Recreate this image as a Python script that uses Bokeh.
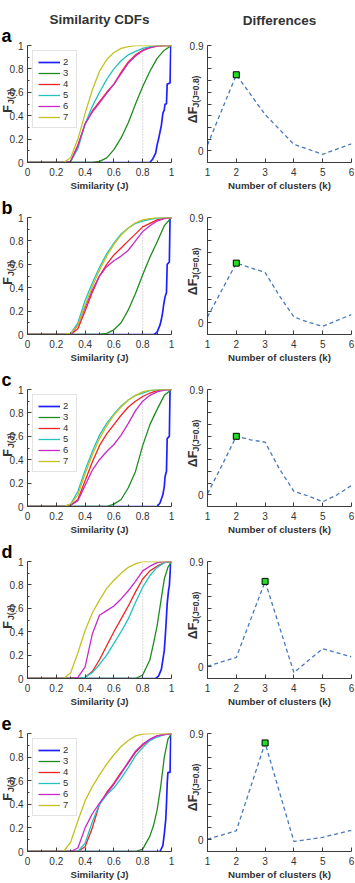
import math

from bokeh.embed import file_html
from bokeh.layouts import column, row
from bokeh.models import FixedTicker, Label
from bokeh.plotting import figure
from bokeh.resources import INLINE

# ---------------------------------------------------------------- data
K_NAMES = ["2", "3", "4", "5", "6", "7"]
THRESHOLD = 0.8
PANEL_LETTERS = ["a", "b", "c", "d", "e"]
COLUMN_TITLES = ["Similarity CDFs", "Differences"]

# similarity grid shared by the k = 4..7 curves
J_GRID = [0, 0.25, 0.30, 0.35, 0.40, 0.45, 0.50, 0.55, 0.60, 0.65,
          0.70, 0.75, 0.80, 0.85, 0.90, 0.95, 1.00]

# panel a
a_k2_j = [0, 0.85, 0.87, 0.89, 0.90, 0.91, 0.92, 0.93, 0.94, 0.95, 0.955, 0.965, 0.97, 0.99, 0.995, 1.0]
a_k2_f = [0, 0, 0.03, 0.08, 0.15, 0.20, 0.26, 0.32, 0.42, 0.45, 0.50, 0.50, 0.67, 0.68, 1.0, 1.0]
a_k3_j = [0, 0.45, 0.50, 0.55, 0.60, 0.65, 0.70, 0.75, 0.80, 0.85, 0.90, 0.95, 1.0]
a_k3_f = [0, 0, 0.01, 0.04, 0.11, 0.21, 0.34, 0.50, 0.65, 0.78, 0.89, 0.96, 1.0]
a_k4 = [0, 0, 0.01, 0.15, 0.33, 0.44, 0.52, 0.60, 0.67, 0.77, 0.86, 0.92, 0.96, 0.985, 0.995, 1, 1]
a_k5 = [0, 0, 0.01, 0.12, 0.33, 0.48, 0.60, 0.71, 0.80, 0.87, 0.92, 0.95, 0.975, 0.99, 1, 1, 1]
a_k6 = [0, 0, 0.01, 0.14, 0.33, 0.43, 0.51, 0.59, 0.67, 0.76, 0.85, 0.91, 0.955, 0.98, 0.995, 1, 1]
a_k7 = [0, 0, 0.04, 0.20, 0.42, 0.62, 0.78, 0.88, 0.94, 0.975, 0.99, 1, 1, 1, 1, 1, 1]
a_diff_k = [1, 2, 3, 4, 5, 6]
a_diff = [0.05, 0.65, 0.31, 0.055, -0.03, 0.06]

# panel b
b_k2_j = [0, 0.88, 0.90, 0.92, 0.93, 0.94, 0.945, 0.955, 0.965, 0.97, 0.985, 0.99, 1.0]
b_k2_f = [0, 0, 0.02, 0.08, 0.13, 0.20, 0.25, 0.32, 0.36, 0.60, 0.62, 1.0, 1.0]
b_k3_j = [0, 0.45, 0.50, 0.55, 0.60, 0.65, 0.70, 0.75, 0.80, 0.85, 0.90, 0.95, 1.0]
b_k3_f = [0, 0, 0, 0.01, 0.04, 0.10, 0.21, 0.35, 0.51, 0.66, 0.79, 0.93, 1.0]
b_k4 = [0, 0, 0, 0.05, 0.20, 0.36, 0.50, 0.60, 0.68, 0.74, 0.80, 0.86, 0.92, 0.95, 0.98, 0.995, 1]
b_k5 = [0, 0, 0.01, 0.10, 0.29, 0.44, 0.575, 0.69, 0.78, 0.86, 0.91, 0.95, 0.97, 0.985, 0.995, 1, 1]
b_k6 = [0, 0, 0, 0.08, 0.23, 0.38, 0.50, 0.58, 0.63, 0.67, 0.72, 0.80, 0.88, 0.93, 0.97, 0.99, 1]
b_k7 = [0, 0, 0.01, 0.08, 0.25, 0.41, 0.55, 0.67, 0.77, 0.85, 0.91, 0.955, 0.98, 0.99, 1, 1, 1]
b_diff_k = [1, 1.5, 2, 2.5, 3, 3.5, 4, 4.5, 5, 5.5, 6]
b_diff = [0.05, 0.28, 0.51, 0.47, 0.43, 0.23, 0.05, 0.005, -0.03, 0.02, 0.07]

# panel c
c_k2_j = [0, 0.90, 0.92, 0.94, 0.95, 0.955, 0.96, 0.965, 0.97, 0.985, 0.99, 1.0]
c_k2_f = [0, 0, 0.03, 0.10, 0.17, 0.25, 0.28, 0.30, 0.58, 0.60, 1.0, 1.0]
c_k3_j = [0, 0.45, 0.50, 0.55, 0.60, 0.65, 0.70, 0.75, 0.80, 0.85, 0.90, 0.95, 1.0]
c_k3_f = [0, 0, 0, 0, 0.02, 0.06, 0.16, 0.30, 0.52, 0.70, 0.83, 0.95, 1.0]
c_k4 = [0, 0, 0.01, 0.06, 0.22, 0.38, 0.52, 0.62, 0.70, 0.78, 0.85, 0.90, 0.94, 0.97, 0.99, 1, 1]
c_k5 = [0, 0, 0.02, 0.13, 0.31, 0.47, 0.61, 0.71, 0.79, 0.86, 0.91, 0.95, 0.97, 0.99, 1, 1, 1]
c_k6 = [0, 0, 0.01, 0.05, 0.18, 0.31, 0.40, 0.47, 0.53, 0.61, 0.71, 0.82, 0.90, 0.95, 0.98, 0.995, 1]
c_k7 = [0, 0, 0.02, 0.10, 0.28, 0.44, 0.58, 0.69, 0.78, 0.85, 0.91, 0.95, 0.98, 0.995, 1, 1, 1]
c_diff_k = [1, 1.5, 2, 2.5, 3, 3.5, 4, 4.5, 5, 5.5, 6]
c_diff = [0.01, 0.25, 0.50, 0.47, 0.45, 0.22, 0.03, -0.01, -0.06, 0.0, 0.08]

# panel d
d_k2_j = [0, 0.89, 0.91, 0.93, 0.95, 0.96, 0.97, 0.98, 0.985, 0.995, 1.0]
d_k2_f = [0, 0, 0.02, 0.08, 0.24, 0.42, 0.64, 0.76, 0.79, 1.0, 1.0]
d_k3_j = [0, 0.75, 0.80, 0.85, 0.875, 0.90, 0.925, 0.95, 0.975, 1.0]
d_k3_f = [0, 0, 0.03, 0.16, 0.30, 0.45, 0.65, 0.85, 0.95, 1.0]
d_k4 = [0, 0, 0, 0, 0.01, 0.06, 0.16, 0.28, 0.40, 0.51, 0.62, 0.74, 0.85, 0.92, 0.96, 0.99, 1]
d_k5 = [0, 0, 0, 0, 0.01, 0.05, 0.12, 0.20, 0.30, 0.40, 0.51, 0.65, 0.78, 0.88, 0.95, 0.99, 1]
d_k6 = [0, 0, 0, 0.01, 0.10, 0.38, 0.54, 0.58, 0.62, 0.68, 0.75, 0.83, 0.92, 0.96, 0.99, 1, 1]
d_k7 = [0, 0, 0.05, 0.22, 0.41, 0.56, 0.67, 0.77, 0.84, 0.90, 0.95, 0.98, 1, 1, 1, 1, 1]
d_diff_k = [1, 2, 3, 4, 5, 6]
d_diff = [0.005, 0.08, 0.73, -0.05, 0.155, 0.085]

# panel e
e_k2_j = [0, 0.92, 0.94, 0.95, 0.96, 0.965, 0.97, 0.975, 0.99, 0.995, 1.0]
e_k2_f = [0, 0, 0.05, 0.15, 0.27, 0.40, 0.57, 0.67, 0.67, 1.0, 1.0]
e_k3_j = [0, 0.75, 0.80, 0.85, 0.875, 0.90, 0.925, 0.95, 0.975, 1.0]
e_k3_f = [0, 0, 0.02, 0.13, 0.22, 0.35, 0.55, 0.80, 0.95, 1.0]
e_k4 = [0, 0, 0, 0, 0.04, 0.20, 0.40, 0.50, 0.58, 0.67, 0.75, 0.84, 0.90, 0.95, 0.98, 0.99, 1]
e_k5 = [0, 0, 0, 0, 0.07, 0.25, 0.40, 0.48, 0.54, 0.62, 0.71, 0.81, 0.88, 0.94, 0.97, 0.99, 1]
e_k6 = [0, 0, 0, 0.03, 0.20, 0.32, 0.41, 0.49, 0.57, 0.66, 0.76, 0.85, 0.91, 0.95, 0.98, 0.99, 1]
e_k7 = [0, 0, 0.08, 0.26, 0.43, 0.55, 0.65, 0.74, 0.82, 0.89, 0.94, 0.98, 0.995, 1, 1, 1, 1]
e_diff_k = [1, 2, 3, 4, 5, 6]
e_diff = [0.005, 0.075, 0.82, -0.015, 0.02, 0.08]

SIM_TICKS = [0, 0.2, 0.4, 0.6, 0.8, 1]
SIM_TICK_LABELS = ["0", "0.2", "0.4", "0.6", "0.8", "1"]
SIM_MINOR = [0.1, 0.3, 0.5, 0.7, 0.9]
K_TICKS = [1, 2, 3, 4, 5, 6]
DIFF_TICKS = [0, 0.9]
DIFF_TICK_LABELS = ["0", "0.9"]
DIFF_MINOR = [-0.1, 0.1, 0.2, 0.3, 0.4, 0.5, 0.6, 0.7, 0.8]

# ---------------------------------------------------------------- style
FONT = "Liberation Sans"
AXIS_COLOR = "#3c3c3c"
TEXT_COLOR = "#333333"
K_COLORS = ["#2020ff", "#1e8c1e", "#f02424", "#22c2c2", "#c82ac8", "#c2c222"]
DIFF_COLOR = "#4a78b8"

PAGE_W, PAGE_H = 355, 883
FRAME_W = 144
FRAME_H = 118
LEFT_W, RIGHT_W = 180, 175
BORDER_L = 27
SIM_RANGE = (0, 1)
DIFF_XRANGE = (1, 6)
DIFF_YRANGE = (-0.1, 0.9)


def style_axes(p, x_label):
    p.xgrid.visible = False
    p.ygrid.visible = False
    p.outline_line_color = None
    for ax in (p.xaxis[0], p.yaxis[0]):
        ax.axis_line_color = AXIS_COLOR
        ax.axis_line_width = 1
        ax.major_tick_line_color = AXIS_COLOR
        ax.minor_tick_line_color = AXIS_COLOR
        ax.major_tick_in = 4
        ax.major_tick_out = 0
        ax.minor_tick_in = 2
        ax.minor_tick_out = 0
        ax.major_label_text_font = FONT
        ax.major_label_text_font_size = "10px"
        ax.major_label_text_color = TEXT_COLOR
        ax.axis_label_text_font = FONT
        ax.axis_label_text_font_size = "9.7px"
        ax.axis_label_text_font_style = "bold"
        ax.axis_label_text_color = TEXT_COLOR
    p.xaxis.axis_label = x_label
    p.xaxis.major_label_standoff = 5
    p.xaxis.axis_label_standoff = 1
    p.yaxis.major_label_standoff = 4


def cdf_panel(k2, k3, curves, legend, top, bottom):
    p = figure(width=LEFT_W, height=top + FRAME_H + bottom,
               x_range=SIM_RANGE, y_range=SIM_RANGE,
               output_backend="svg", toolbar_location=None,
               min_border_left=BORDER_L, min_border_right=LEFT_W - BORDER_L - FRAME_W,
               min_border_top=top, min_border_bottom=bottom)
    style_axes(p, "Similarity (J)")
    p.xaxis.ticker = FixedTicker(ticks=SIM_TICKS, minor_ticks=SIM_MINOR)
    p.yaxis.ticker = FixedTicker(ticks=SIM_TICKS, minor_ticks=SIM_MINOR)
    overrides = dict(zip(SIM_TICKS, SIM_TICK_LABELS))
    p.xaxis.major_label_overrides = overrides
    p.yaxis.major_label_overrides = overrides

    # dotted marker at the similarity threshold
    p.line([THRESHOLD, THRESHOLD], [SIM_RANGE[0], SIM_RANGE[1]],
           line_color="#b4b4b4", line_dash="1 2", line_width=1)

    series = [k2, k3] + [(J_GRID, f) for f in curves]
    for name, color, (xs, ys) in zip(K_NAMES, K_COLORS, series):
        kw = dict(line_color=color, line_width=1.7 if name == "2" else 1.3)
        if legend:
            kw["legend_label"] = name
        p.line(xs, ys, **kw)

    if legend:
        lg = p.legend[0]
        lg.location = "top_left"
        lg.margin = 5
        lg.padding = 5
        lg.spacing = -2
        lg.label_height = 8
        lg.label_width = 8
        lg.glyph_height = 8
        lg.glyph_width = 22
        lg.label_standoff = 3
        lg.label_text_font = FONT
        lg.label_text_font_size = "9.5px"
        lg.label_text_color = TEXT_COLOR
        lg.border_line_color = "#c8c8c8"
        lg.border_line_width = 1
        lg.background_fill_alpha = 1.0
    return p


def diff_panel(ks, diffs, top, bottom):
    p = figure(width=RIGHT_W, height=top + FRAME_H + bottom,
               x_range=DIFF_XRANGE, y_range=DIFF_YRANGE,
               output_backend="svg", toolbar_location=None,
               min_border_left=BORDER_L, min_border_right=RIGHT_W - BORDER_L - FRAME_W,
               min_border_top=top, min_border_bottom=bottom)
    style_axes(p, "Number of clusters (k)")
    p.xaxis.ticker = FixedTicker(ticks=K_TICKS)
    p.yaxis.ticker = FixedTicker(ticks=DIFF_TICKS, minor_ticks=DIFF_MINOR)
    p.yaxis.major_label_overrides = dict(zip(DIFF_TICKS, DIFF_TICK_LABELS))
    p.yaxis.minor_tick_in = 4

    p.line(ks, diffs, line_color=DIFF_COLOR, line_dash="4 3", line_width=1.3)
    best = max(range(len(diffs)), key=lambda i: diffs[i])
    p.scatter([ks[best]], [diffs[best]], marker="square", size=6,
              fill_color="#22dd22", line_color="black", line_width=1)
    return p


panels = [
    ((a_k2_j, a_k2_f), (a_k3_j, a_k3_f), [a_k4, a_k5, a_k6, a_k7], True, a_diff_k, a_diff),
    ((b_k2_j, b_k2_f), (b_k3_j, b_k3_f), [b_k4, b_k5, b_k6, b_k7], False, b_diff_k, b_diff),
    ((c_k2_j, c_k2_f), (c_k3_j, c_k3_f), [c_k4, c_k5, c_k6, c_k7], True, c_diff_k, c_diff),
    ((d_k2_j, d_k2_f), (d_k3_j, d_k3_f), [d_k4, d_k5, d_k6, d_k7], False, d_diff_k, d_diff),
    ((e_k2_j, e_k2_f), (e_k3_j, e_k3_f), [e_k4, e_k5, e_k6, e_k7], True, e_diff_k, e_diff),
]

rows = []
frame_tops = []
y_cursor = 0
for i, (k2, k3, curves, legend, dk, dv) in enumerate(panels):
    top = 45 if i == 0 else 24
    bottom = 32 if i == len(panels) - 1 else 30
    frame_tops.append(y_cursor + top)
    y_cursor += top + FRAME_H + bottom
    rows.append(row(cdf_panel(k2, k3, curves, legend, top, bottom),
                    diff_panel(dk, dv, top, bottom), spacing=0))

# ---------------------------------------------------------------- text layer
# A transparent page-sized canvas that carries the panel letters, column
# headings and the subscripted y labels (positions in page pixels).
overlay = figure(width=PAGE_W, height=PAGE_H, x_range=(0, PAGE_W), y_range=(0, PAGE_H),
                 x_axis_type=None, y_axis_type=None, output_backend="svg",
                 toolbar_location=None, min_border=0, outline_line_color=None,
                 background_fill_alpha=0, border_fill_alpha=0)
overlay.margin = (-PAGE_H, 0, 0, 0)


def put(x, y_top, text, size, angle=0.0, align="left", baseline="alphabetic",
        color=TEXT_COLOR):
    overlay.add_layout(Label(x=x, y=PAGE_H - y_top, text=text, angle=angle,
                             text_align=align, text_baseline=baseline,
                             text_font=FONT, text_font_size=size,
                             text_font_style="bold", text_color=color))


def put_vertical(x_mid, y_mid, text, size):
    put(x_mid, y_mid, text, size, angle=math.pi / 2, align="center", baseline="middle")


put(BORDER_L + FRAME_W / 2, 19, COLUMN_TITLES[0], "13.5px", align="center")
put(LEFT_W + BORDER_L + FRAME_W / 2, 20, COLUMN_TITLES[1], "13.5px", align="center")
for letter, ft in zip(PANEL_LETTERS, frame_tops):
    put(1, ft - 10, letter, "18px", color="black")
    put_vertical(7.5, ft + 63.5, "F", "12.5px")
    put_vertical(10.5, ft + 51, "J(J)", "8.5px")
    put_vertical(LEFT_W + 12, ft + 69.5, "\u0394F", "12.5px")
    put_vertical(LEFT_W + 15.5, ft + 46, "J(J=0.8)", "8.5px")

page = column(*rows, overlay, spacing=0)

with open("out.html", "w") as f:
    f.write(file_html(page, INLINE))
